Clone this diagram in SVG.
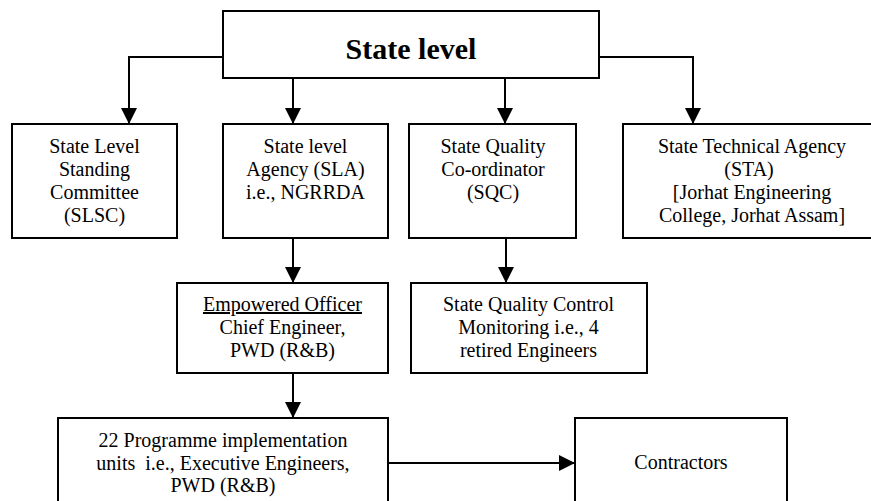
<svg xmlns="http://www.w3.org/2000/svg" width="871" height="501" viewBox="0 0 871 501">
<style>
.box{fill:#fff;stroke:#000;stroke-width:2}
.t{font-family:"Liberation Serif","Times New Roman",serif;font-size:20px;fill:#000;text-anchor:middle}
.h{font-family:"Liberation Serif","Times New Roman",serif;font-size:30px;font-weight:bold;fill:#000;text-anchor:middle}
.c{fill:none;stroke:#000;stroke-width:2;marker-end:url(#ah)}
</style>
<defs>
<marker id="ah" markerUnits="userSpaceOnUse" markerWidth="16" markerHeight="16" refX="14" refY="7" orient="auto" viewBox="0 0 14 14">
<path d="M0,0 L14,7 L0,14 Z" fill="#000"/>
</marker>
</defs>
<rect width="871" height="501" fill="#fff"/>
<g id="connectors">
<path class="c" d="M223,57 H129 V124"/>
<path class="c" d="M293,78 V124"/>
<path class="c" d="M505,78 V124"/>
<path class="c" d="M599,57 H693 V124"/>
<path class="c" d="M293,238 V283"/>
<path class="c" d="M506,238 V283"/>
<path class="c" d="M293,373 V418"/>
<path class="c" d="M388,463 H575"/>
</g>
<g id="state-level">
<rect class="box" x="223" y="11" width="376" height="67"/>
<text class="h" x="411" y="59">State level</text>
</g>
<g id="slsc">
<rect class="box" x="12" y="124" width="165" height="114"/>
<text class="t" x="94.5" y="153">State Level</text>
<text class="t" x="94.5" y="176">Standing</text>
<text class="t" x="94.5" y="199">Committee</text>
<text class="t" x="94.5" y="222">(SLSC)</text>
</g>
<g id="sla">
<rect class="box" x="223" y="124" width="165" height="114"/>
<text class="t" x="305.5" y="153">State level</text>
<text class="t" x="305.5" y="176">Agency (SLA)</text>
<text class="t" x="305.5" y="199">i.e., NGRRDA</text>
</g>
<g id="sqc">
<rect class="box" x="409" y="124" width="167" height="114"/>
<text class="t" x="493" y="153">State Quality</text>
<text class="t" x="493" y="176">Co-ordinator</text>
<text class="t" x="493" y="199">(SQC)</text>
</g>
<g id="sta">
<rect class="box" x="623" y="124" width="260" height="114"/>
<text class="t" x="752" y="153">State Technical Agency</text>
<text class="t" x="749" y="176">(STA)</text>
<text class="t" x="752" y="199">[Jorhat Engineering</text>
<text class="t" x="752" y="222">College, Jorhat Assam]</text>
</g>
<g id="empowered-officer">
<rect class="box" x="177" y="283" width="211" height="90"/>
<text class="t" x="282.5" y="311" text-decoration="underline">Empowered Officer</text>
<text class="t" x="282.5" y="334">Chief Engineer,</text>
<text class="t" x="282.5" y="357">PWD (R&amp;B)</text>
</g>
<g id="sqcm">
<rect class="box" x="411" y="283" width="236" height="90"/>
<text class="t" x="528.5" y="311">State Quality Control</text>
<text class="t" x="528.5" y="334">Monitoring i.e., 4</text>
<text class="t" x="528.5" y="357">retired Engineers</text>
</g>
<g id="piu">
<rect class="box" x="58" y="418" width="330" height="100"/>
<text class="t" x="223" y="447">22 Programme implementation</text>
<text class="t" x="223" y="470" style="white-space:pre">units  i.e., Executive Engineers,</text>
<text class="t" x="223" y="492">PWD (R&amp;B)</text>
</g>
<g id="contractors">
<rect class="box" x="575" y="418" width="212" height="100"/>
<text class="t" x="681" y="469">Contractors</text>
</g>
</svg>
